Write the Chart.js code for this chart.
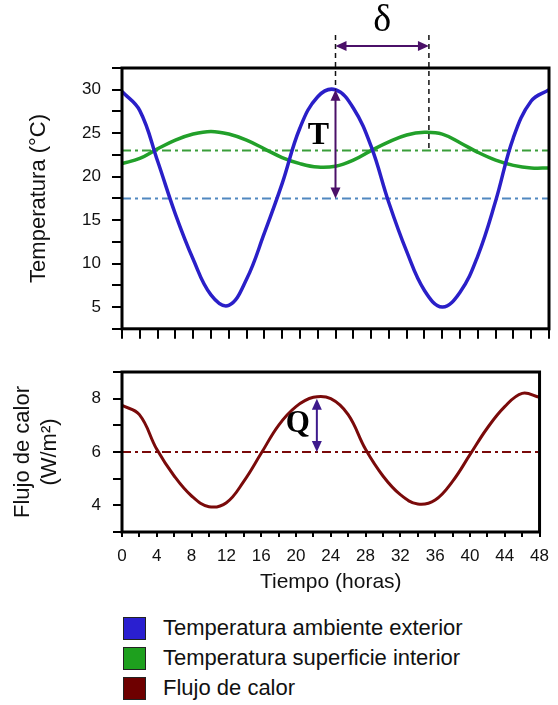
<!DOCTYPE html>
<html>
<head>
<meta charset="utf-8">
<script src="https://cdn.jsdelivr.net/npm/chart.js@4.4.1/dist/chart.umd.min.js"></script>
<style>
  body { margin: 0; background: #fff; width: 558px; height: 705px; position: relative; overflow: hidden; font-family: Arial, 'Liberation Sans', sans-serif; }
  #tempChart { position: absolute; left: 0; top: 0; }
  #fluxChart { position: absolute; left: 0; top: 345px; }
  .legend { position: absolute; left: 123px; top: 613px; }
  .legend-row { display: flex; align-items: center; height: 30px; }
  .swatch { width: 21px; height: 21px; border: 1px solid #222; margin-right: 17px; }
  .legend-row span { font-size: 22px; color: #111; }
</style>
</head>
<body>
<canvas id="tempChart" width="558" height="350"></canvas>
<canvas id="fluxChart" width="558" height="260"></canvas>
<div class="legend" id="legend"></div>
<script>
// tiempo en horas
const hours = [0, 2, 4, 6, 8, 10, 12, 14, 16, 18, 20, 22, 24, 26, 28, 30, 32, 34, 36, 38, 40, 42, 44, 46, 48];
const tempExterior = [29.8, 27.6, 21.8, 15.7, 10.5, 6.4, 5.2, 8.2, 13.5, 19.2, 25.6, 29.2, 30.0, 27.9, 23.5, 17.0, 11.4, 6.9, 5.0, 6.7, 10.9, 17.2, 24.5, 28.7, 30.0];
const tempInterior = [21.5, 22.1, 23.2, 24.2, 24.9, 25.2, 24.9, 24.2, 23.2, 22.2, 21.5, 21.1, 21.2, 21.9, 23.0, 24.0, 24.8, 25.1, 24.9, 23.9, 22.8, 21.9, 21.3, 21.0, 21.0];
const heatFlux = [7.75, 7.4, 6.1, 5.1, 4.35, 3.95, 4.1, 4.9, 5.95, 7.0, 7.7, 8.05, 8.0, 7.4, 6.1, 5.1, 4.4, 4.05, 4.2, 4.9, 5.9, 6.9, 7.7, 8.2, 8.05];

const meanExterior = 17.5;
const meanInterior = 23;
const meanFlux = 6;
const peakExterior = 30;
const peakHour = 24;
const interiorPeakHour = 34.5;
const fluxPeak = 8;
const fluxPeakHour = 22.4;

const tempTicks = [5, 10, 15, 20, 25, 30];
const fluxTicks = [4, 6, 8];
const timeTicks = [0, 4, 8, 12, 16, 20, 24, 28, 32, 36, 40, 44, 48];

const legendItems = [
    { label: 'Temperatura ambiente exterior', color: '#2a1fd0' },
    { label: 'Temperatura superficie interior', color: '#1ea01e' },
    { label: 'Flujo de calor', color: '#6e0000' }
];

const sans = "Arial, 'Liberation Sans', sans-serif";
const serif = "'Liberation Serif', 'Times New Roman', serif";
const purple = '#4b1068';
const dashDot = [9, 4, 3, 4];

function toPoints(values) {
    return hours.map((h, i) => ({ x: h, y: values[i] }));
}

function flatLine(v) {
    return [{ x: hours[0], y: v }, { x: hours[hours.length - 1], y: v }];
}

function curve(data, color, width) {
    return { data, borderColor: color, borderWidth: width, pointRadius: 0, tension: 0.4, fill: false };
}

function refLine(v, color) {
    return { data: flatLine(v), borderColor: color, borderWidth: 2, borderDash: dashDot, pointRadius: 0, fill: false };
}

function arrow(ctx, x1, y1, x2, y2, color) {
    const ang = Math.atan2(y2 - y1, x2 - x1);
    const len = 11, half = 5;
    ctx.save();
    ctx.strokeStyle = color;
    ctx.fillStyle = color;
    ctx.lineWidth = 2;
    ctx.setLineDash([]);
    ctx.beginPath();
    ctx.moveTo(x1 + Math.cos(ang) * 4, y1 + Math.sin(ang) * 4);
    ctx.lineTo(x2 - Math.cos(ang) * 4, y2 - Math.sin(ang) * 4);
    ctx.stroke();
    [[x1, y1, ang + Math.PI], [x2, y2, ang]].forEach(([x, y, a]) => {
        ctx.beginPath();
        ctx.moveTo(x, y);
        ctx.lineTo(x - Math.cos(a) * len + Math.sin(a) * half, y - Math.sin(a) * len - Math.cos(a) * half);
        ctx.lineTo(x - Math.cos(a) * len - Math.sin(a) * half, y - Math.sin(a) * len + Math.cos(a) * half);
        ctx.closePath();
        ctx.fill();
    });
    ctx.restore();
}

const boxPlugin = {
    id: 'box',
    afterDatasetsDraw(chart) {
        const { ctx, chartArea: a } = chart;
        ctx.save();
        ctx.strokeStyle = '#000';
        ctx.lineWidth = 3;
        ctx.strokeRect(a.left, a.top, a.right - a.left, a.bottom - a.top);
        ctx.restore();
    }
};

const tempNotes = {
    id: 'tempNotes',
    afterDraw(chart) {
        const { ctx, scales: { x, y } } = chart;
        const xa = x.getPixelForValue(peakHour);
        const xb = x.getPixelForValue(interiorPeakHour);
        const yPeak = y.getPixelForValue(peakExterior);
        const top = 35;
        ctx.save();
        ctx.strokeStyle = '#111';
        ctx.lineWidth = 1.5;
        ctx.setLineDash([5, 4]);
        ctx.beginPath();
        ctx.moveTo(xa, top); ctx.lineTo(xa, yPeak);
        ctx.moveTo(xb, top); ctx.lineTo(xb, y.getPixelForValue(meanInterior));
        ctx.stroke();
        ctx.restore();

        arrow(ctx, xa, 46, xb, 46, purple);
        arrow(ctx, xa, yPeak, xa, y.getPixelForValue(meanExterior), purple);

        ctx.save();
        ctx.fillStyle = '#000';
        ctx.textAlign = 'center';
        ctx.textBaseline = 'middle';
        ctx.font = '38px ' + serif;
        ctx.fillText('δ', (xa + xb) / 2, 21);
        ctx.font = 'bold 32px ' + serif;
        ctx.fillText('T', xa - 17, y.getPixelForValue(24.7));
        ctx.restore();
    }
};

const fluxNotes = {
    id: 'fluxNotes',
    afterDraw(chart) {
        const { ctx, scales: { x, y } } = chart;
        const xq = x.getPixelForValue(fluxPeakHour);
        arrow(ctx, xq, y.getPixelForValue(fluxPeak), xq, y.getPixelForValue(meanFlux), '#3d1a8c');
        ctx.save();
        ctx.fillStyle = '#000';
        ctx.textAlign = 'center';
        ctx.textBaseline = 'middle';
        ctx.font = 'bold 31px ' + serif;
        ctx.fillText('Q', x.getPixelForValue(20.2), y.getPixelForValue(7.05));
        ctx.restore();
    }
};

const tickGrid = (len) => ({ drawOnChartArea: false, tickLength: len, color: '#000', lineWidth: 2 });

new Chart(document.getElementById('tempChart'), {
    type: 'line',
    data: {
        datasets: [
            curve(toPoints(tempExterior), '#2a1fc8', 3.5),
            curve(toPoints(tempInterior), '#22a02a', 3.5),
            refLine(meanExterior, '#5088c0'),
            refLine(meanInterior, '#3a9e3a')
        ]
    },
    options: {
        responsive: false,
        animation: false,
        layout: { padding: { top: 68, right: 9, left: 0, bottom: 0 } },
        plugins: { legend: { display: false }, tooltip: { enabled: false } },
        scales: {
            x: {
                type: 'linear', min: 0, max: 48,
                border: { display: false },
                grid: tickGrid(10),
                ticks: { stepSize: 2, autoSkip: false, maxRotation: 0, callback: () => '' },
                afterFit: s => { s.height = 11; }
            },
            y: {
                min: 2.5, max: 32.5,
                border: { display: false },
                grid: tickGrid(10),
                ticks: {
                    stepSize: 2.5, autoSkip: false, padding: 11, color: '#111',
                    font: { family: sans, size: 17 },
                    callback: v => tempTicks.includes(v) ? v : ''
                },
                title: { display: true, text: 'Temperatura (°C)', color: '#111', font: { family: sans, size: 22 }, padding: { top: 26 } },
                afterFit: s => { s.width = 122; }
            }
        }
    },
    plugins: [boxPlugin, tempNotes]
});

new Chart(document.getElementById('fluxChart'), {
    type: 'line',
    data: {
        datasets: [
            curve(toPoints(heatFlux), '#7a0a0a', 3),
            refLine(meanFlux, '#7a0a0a')
        ]
    },
    options: {
        responsive: false,
        animation: false,
        layout: { padding: { top: 27, right: 9, left: 0, bottom: 0 } },
        plugins: { legend: { display: false }, tooltip: { enabled: false } },
        scales: {
            x: {
                type: 'linear', min: 0, max: 48,
                border: { display: false },
                grid: tickGrid(5),
                ticks: {
                    stepSize: 2, autoSkip: false, maxRotation: 0, minRotation: 0, padding: 9, color: '#111',
                    font: { family: sans, size: 17 },
                    callback: v => timeTicks.includes(v) ? v : ''
                },
                title: { display: true, text: 'Tiempo (horas)', color: '#111', font: { family: sans, size: 21 }, padding: { bottom: 10 } },
                afterFit: s => { s.height = 73; }
            },
            y: {
                min: 3, max: 9,
                border: { display: false },
                grid: tickGrid(9),
                ticks: {
                    stepSize: 1, autoSkip: false, padding: 12, color: '#111',
                    font: { family: sans, size: 17 },
                    callback: v => fluxTicks.includes(v) ? v : ''
                },
                title: { display: true, text: ['Flujo de calor', '(W/m²)'], color: '#111', font: { family: sans, size: 22 }, padding: { top: 10 } },
                afterFit: s => { s.width = 122; }
            }
        }
    },
    plugins: [boxPlugin, fluxNotes]
});

const legend = document.getElementById('legend');
legendItems.forEach(item => {
    const row = document.createElement('div');
    row.className = 'legend-row';
    row.innerHTML = `<div class="swatch" style="background:${item.color}"></div><span>${item.label}</span>`;
    legend.appendChild(row);
});
</script>
</body>
</html>
